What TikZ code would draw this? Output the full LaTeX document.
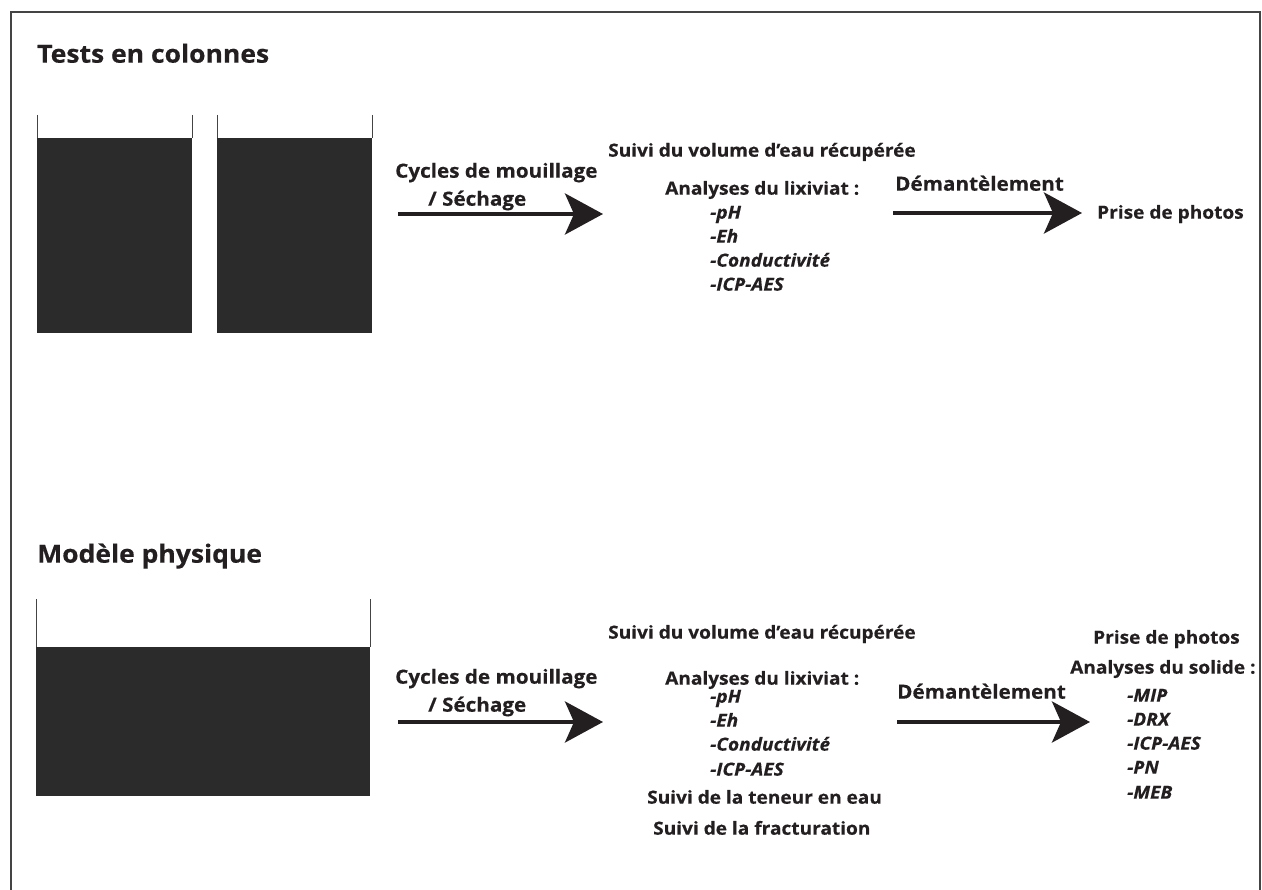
\documentclass[tikz,border=0pt]{standalone}
\usepackage{fontspec}
\setmainfont{Open Sans}[FakeStretch=1.06, BoldFeatures={FakeBold=0.4}, BoldItalicFeatures={FakeBold=0.4}]
\usetikzlibrary{arrows.meta}
\definecolor{ink}{HTML}{231F20}
\definecolor{fillc}{HTML}{2B2B2B}
\definecolor{framec}{HTML}{444444}
\tikzset{
  title/.style={anchor=mid west, inner sep=0pt, font=\bfseries\fontsize{25}{26}\selectfont, text=ink},
  label/.style={anchor=mid west, inner sep=0pt, font=\bfseries\fontsize{19.5}{20}\selectfont, text=ink},
  txt/.style={anchor=mid west, inner sep=0pt, font=\bfseries\fontsize{18}{18}\selectfont, text=ink},
  itm/.style={anchor=mid west, inner sep=0pt, font=\bfseries\itshape\fontsize{18}{18}\selectfont, text=ink},
  bigarrow/.style={draw=ink, line width=4pt, -{Stealth[length=38pt,width=41pt,inset=9pt]}},
  wall/.style={draw=framec, line width=1pt},
  soil/.style={fill=fillc, draw=none},
}
\begin{document}
\begin{tikzpicture}[x=1pt,y=-1pt]
\useasboundingbox (0,0) rectangle (1262,890);
% frame
\draw[framec, line width=1.2pt] (11,895) -- (11,12) -- (1260,12);
\draw[framec, line width=2pt] (1260,11.4) -- (1260,895);

% ---------- Tests en colonnes ----------
\node[title] (t1) at (37,60) {Tests en colonnes};
\draw[wall] (37,115) -- (37,138) (192,115) -- (192,138);
\fill[soil] (37,138) rectangle (192,333);
\draw[wall] (217,115) -- (217,138) (372,115) -- (372,138);
\fill[soil] (217,138) rectangle (372,333);

\node[label] (c1) at (395,175) {Cycles de mouillage};
\node[label] (s1) at (428,203) {/ Séchage};
\coordinate (a1s) at (398,214);
\coordinate (a1e) at (603,214);
\draw[bigarrow] (a1s) -- (a1e);

\node[txt] (v1) at (608,154) {Suivi du volume d’eau récupérée};
\node[txt] (l1) at (665,192) {Analyses du lixiviat :};
\node[itm] (p1) at (710,216) {-pH};
\node[itm] (e1) at (710,240) {-Eh};
\node[itm] (k1) at (710,264) {-Conductivité};
\node[itm] (i1) at (710,288) {-ICP-AES};

\node[label] (d1) at (895,188) {Démantèlement};
\coordinate (a2s) at (893,213);
\coordinate (a2e) at (1082,213);
\draw[bigarrow] (a2s) -- (a2e);
\node[txt] (ph1) at (1097,216) {Prise de photos};

% ---------- Modèle physique ----------
\node[title] (t2) at (37,560) {Modèle physique};
\draw[wall] (36,599) -- (36,647) (370,599) -- (370,647);
\fill[soil] (36,647) rectangle (370,796);

\node[label] (c2) at (395,681) {Cycles de mouillage};
\node[label] (s2) at (428,709) {/ Séchage};
\coordinate (a3s) at (398,722);
\coordinate (a3e) at (603,722);
\draw[bigarrow] (a3s) -- (a3e);

\node[txt] (v2) at (608,636) {Suivi du volume d’eau récupérée};
\node[txt] (l2) at (665,682) {Analyses du lixiviat :};
\node[itm] (p2) at (710,700) {-pH};
\node[itm] (e2) at (710,724) {-Eh};
\node[itm] (k2) at (710,748) {-Conductivité};
\node[itm] (i2) at (710,773) {-ICP-AES};
\node[txt] (w2) at (647,801) {Suivi de la teneur en eau};
\node[txt] (f2) at (653,832) {Suivi de la fracturation};

\node[label] (d2) at (897,696) {Démantèlement};
\coordinate (a4s) at (897,722);
\coordinate (a4e) at (1090,722);
\draw[bigarrow] (a4s) -- (a4e);

\node[txt] (ph2) at (1093,641) {Prise de photos};
\node[txt] (as2) at (1070,671) {Analyses du solide :};
\node[itm] (m2) at (1127,699) {-MIP};
\node[itm] (x2) at (1127,723) {-DRX};
\node[itm] (ic2) at (1127,747) {-ICP-AES};
\node[itm] (pn2) at (1127,771) {-PN};
\node[itm] (mb2) at (1127,796) {-MEB};
\end{tikzpicture}
\end{document}
